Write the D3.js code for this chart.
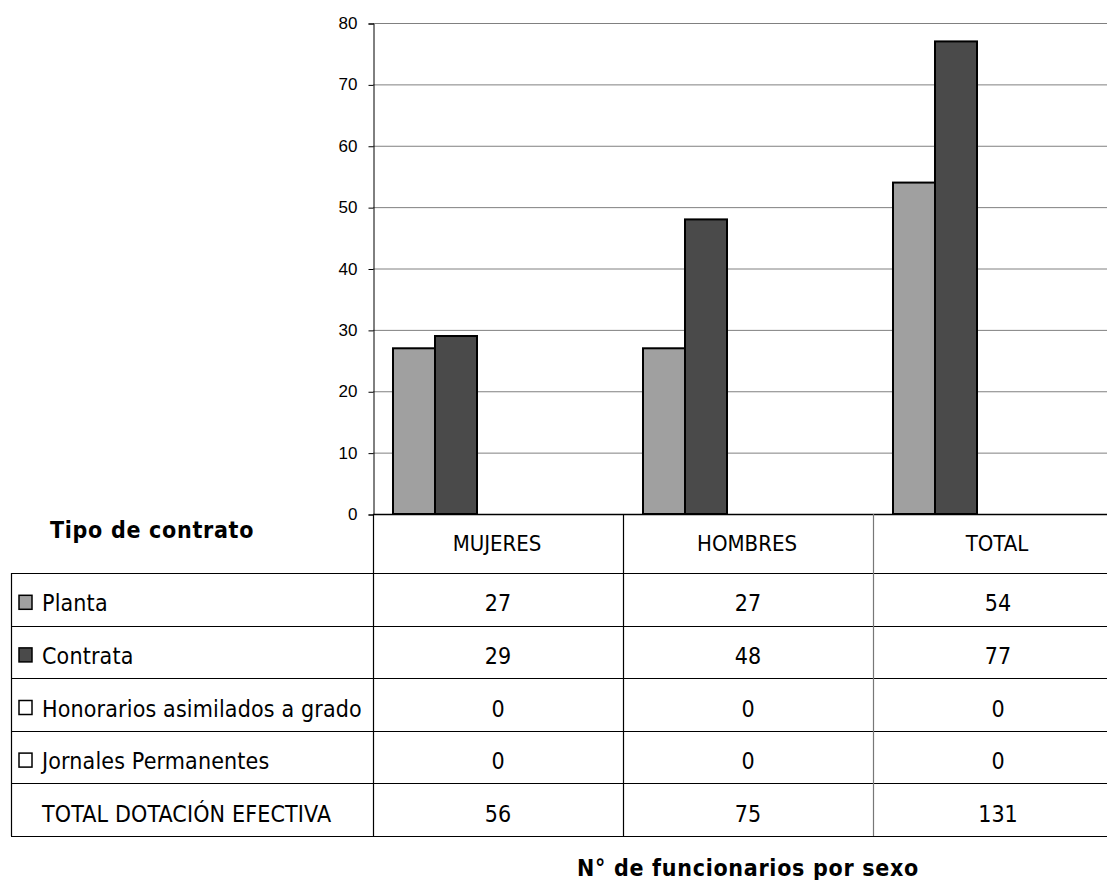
<!DOCTYPE html>
<html>
<head>
<meta charset="utf-8">
<script src="https://cdn.jsdelivr.net/npm/d3@7"></script>
<style>
  body { margin: 0; background: #fff; }
  text { font-family: "DejaVu Sans Condensed", "DejaVu Sans", sans-serif; fill: #000; }
  .tick text { font-family: "Liberation Sans", Arial, sans-serif; }
</style>
</head>
<body>
<div id="chart"></div>
<script>
// categories and series
var categories = ["MUJERES", "HOMBRES", "TOTAL"];
var seriesNames = ["Planta", "Contrata", "Honorarios asimilados a grado", "Jornales Permanentes"];
var planta = [27, 27, 54];
var contrata = [29, 48, 77];
var honorarios = [0, 0, 0];
var jornales = [0, 0, 0];
var totals = [56, 75, 131];
var yTicks = [0, 10, 20, 30, 40, 50, 60, 70, 80];

var seriesColors = ["#a0a0a0", "#4a4a4a", "#ffffff", "#ffffff"];
var seriesValues = [planta, contrata, honorarios, jornales];

var svgWidth = 1107;
var svgHeight = 880;

var plotLeft = 373, plotTop = 23, plotBottom = 514;
var bandW = 250;

var svg = d3.select("#chart")
  .append("svg")
  .attr("width", svgWidth)
  .attr("height", svgHeight);

// scales
var x = d3.scaleBand()
  .domain(categories)
  .range([plotLeft, plotLeft + bandW * categories.length]);

var y = d3.scaleLinear()
  .domain([0, 80])
  .range([plotBottom, plotTop]);

// gridlines
svg.append("g")
  .selectAll("line")
  .data(yTicks.slice(1))
  .enter()
  .append("line")
  .attr("x1", plotLeft)
  .attr("x2", svgWidth)
  .attr("y1", d => y(d) + 0.5)
  .attr("y2", d => y(d) + 0.5)
  .attr("stroke", "#808080")
  .attr("stroke-width", 1);

// left axis
var leftAxis = d3.axisLeft(y).tickValues(yTicks).tickSize(5).tickPadding(11);
var axisG = svg.append("g")
  .attr("transform", `translate(${plotLeft + 0.5}, 0.5)`)
  .call(leftAxis);
axisG.select(".domain").attr("stroke", "#000");
axisG.selectAll(".tick line").attr("stroke", "#000");
axisG.selectAll(".tick text")
  .attr("font-size", 17)
  .attr("dy", "0.3em");

// bars (only Planta and Contrata have visible height)
var barW = 42, barOffset = 20;
var barGroups = svg.append("g");
[0, 1].forEach(function(s) {
  barGroups.selectAll(".bar" + s)
    .data(seriesValues[s])
    .enter()
    .append("rect")
    .attr("class", "bar" + s)
    .attr("x", (d, i) => x(categories[i]) + barOffset + s * barW)
    .attr("y", d => y(d))
    .attr("width", barW)
    .attr("height", d => plotBottom - y(d))
    .attr("fill", seriesColors[s])
    .attr("stroke", "#000")
    .attr("stroke-width", 2);
});

// table
var tableLeft = 11;
var headerBottom = 573;
var tableBottom = 836;
var rowH = (tableBottom - headerBottom) / 5;
var rows = seriesNames.concat(["TOTAL DOTACIÓN EFECTIVA"]);
var rowValues = seriesValues.concat([totals]);

var tbl = svg.append("g");

// x axis line / top of header
tbl.append("line")
  .attr("x1", plotLeft).attr("x2", svgWidth)
  .attr("y1", plotBottom + 0.5).attr("y2", plotBottom + 0.5)
  .attr("stroke", "#000").attr("stroke-width", 1.5);

// horizontal row lines
var rowLines = d3.range(6).map(i => headerBottom + i * rowH);
tbl.selectAll(".hline")
  .data(rowLines)
  .enter()
  .append("line")
  .attr("x1", tableLeft).attr("x2", svgWidth)
  .attr("y1", d => Math.round(d) + 0.5).attr("y2", d => Math.round(d) + 0.5)
  .attr("stroke", "#000").attr("stroke-width", 1.2);

// vertical lines
tbl.append("line")
  .attr("x1", tableLeft + 0.5).attr("x2", tableLeft + 0.5)
  .attr("y1", headerBottom).attr("y2", tableBottom)
  .attr("stroke", "#000").attr("stroke-width", 1.2);

tbl.append("line")
  .attr("x1", plotLeft + 0.5).attr("x2", plotLeft + 0.5)
  .attr("y1", plotBottom).attr("y2", tableBottom)
  .attr("stroke", "#000").attr("stroke-width", 1.2);

tbl.selectAll(".vline")
  .data(categories.slice(1))
  .enter()
  .append("line")
  .attr("x1", d => x(d) + 0.5).attr("x2", d => x(d) + 0.5)
  .attr("y1", plotBottom).attr("y2", tableBottom)
  .attr("stroke", (d, i) => i === 1 ? "#777" : "#000")
  .attr("stroke-width", 1.2);

// category labels
tbl.selectAll(".cat")
  .data(categories)
  .enter()
  .append("text")
  .attr("x", d => x(d) + bandW / 2 - 1)
  .attr("y", (plotBottom + headerBottom) / 2 + 7)
  .attr("text-anchor", "middle")
  .attr("font-size", 22)
  .text(d => d);

// row labels with legend keys
rows.forEach(function(name, r) {
  var cy = headerBottom + r * rowH + rowH / 2;
  if (r < 4) {
    tbl.append("rect")
      .attr("x", 19).attr("y", cy - 4)
      .attr("width", 13).attr("height", 14)
      .attr("fill", seriesColors[r])
      .attr("stroke", "#000").attr("stroke-width", 1.5);
  }
  tbl.append("text")
    .attr("x", 42).attr("y", cy + 12)
    .attr("font-size", 23)
    .attr("letter-spacing", "0.15px")
    .text(name);
  tbl.selectAll(".v" + r)
    .data(rowValues[r])
    .enter()
    .append("text")
    .attr("x", (d, i) => x(categories[i]) + bandW / 2)
    .attr("y", cy + 12)
    .attr("text-anchor", "middle")
    .attr("font-size", 23)
    .text(d => d);
});

// titles
svg.append("text")
  .attr("x", 50).attr("y", 538)
  .attr("font-size", 23)
  .attr("font-weight", "bold")
  .attr("letter-spacing", "0.7px")
  .text("Tipo de contrato");

svg.append("text")
  .attr("x", 577).attr("y", 876)
  .attr("font-size", 23)
  .attr("font-weight", "bold")
  .attr("letter-spacing", "0.7px")
  .text("N° de funcionarios por sexo");
</script>
</body>
</html>
